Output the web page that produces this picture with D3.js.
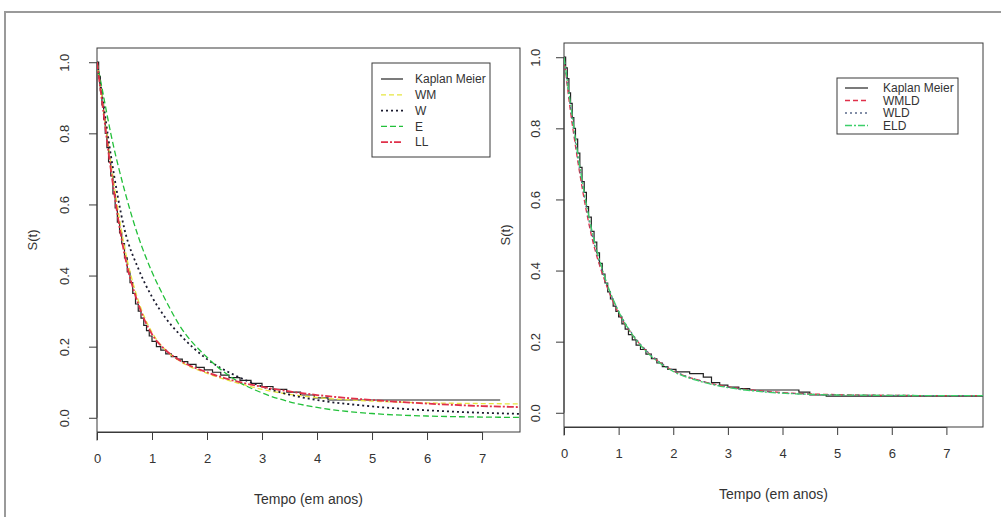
<!DOCTYPE html>
<html>
<head>
<meta charset="utf-8">
<script src="https://cdn.jsdelivr.net/npm/d3@7"></script>
<style>
  html, body { margin: 0; padding: 0; background: #fff; }
  svg { display: block; font-family: "Liberation Sans", Arial, sans-serif; }
</style>
</head>
<body>
<svg id="chart" width="1001" height="517"></svg>
<script>
// ---------- data ----------
// Left panel: Kaplan-Meier estimate and parametric fits
const kmLeftTime = [0, 0.03, 0.06, 0.09, 0.12, 0.15, 0.18, 0.21, 0.25, 0.29, 0.33, 0.37, 0.41, 0.45, 0.5, 0.55, 0.6, 0.65, 0.7, 0.75, 0.8, 0.85, 0.9, 0.95, 1.0, 1.08, 1.16, 1.25, 1.35, 1.45, 1.55, 1.65, 1.8, 1.95, 2.1, 2.25, 2.4, 2.6, 2.8, 3.0, 3.2, 3.45, 3.7, 3.95, 4.2, 7.33];
const kmLeftSurv = [1, 0.96, 0.92, 0.88, 0.84, 0.80, 0.76, 0.72, 0.68, 0.63, 0.59, 0.55, 0.52, 0.49, 0.45, 0.41, 0.38, 0.35, 0.32, 0.30, 0.28, 0.26, 0.245, 0.23, 0.215, 0.20, 0.19, 0.18, 0.172, 0.165, 0.158, 0.15, 0.142, 0.135, 0.128, 0.12, 0.113, 0.105, 0.097, 0.088, 0.08, 0.072, 0.064, 0.056, 0.05, 0.05];

const fitLeftTime = [0, 0.1, 0.25, 0.5, 0.75, 1, 1.25, 1.5, 2, 2.5, 3, 3.5, 4, 5, 6, 7, 7.7];
const survWM = [1, 0.89, 0.72, 0.48, 0.33, 0.24, 0.19, 0.16, 0.125, 0.10, 0.08, 0.066, 0.057, 0.047, 0.042, 0.040, 0.039];
const survW  = [1, 0.90, 0.74, 0.53, 0.42, 0.34, 0.28, 0.235, 0.165, 0.12, 0.088, 0.065, 0.05, 0.032, 0.021, 0.014, 0.011];
const survE  = [1, 0.92, 0.80, 0.64, 0.51, 0.41, 0.33, 0.26, 0.17, 0.108, 0.07, 0.045, 0.029, 0.012, 0.005, 0.002, 0.001];
const survLL = [1, 0.88, 0.70, 0.46, 0.32, 0.235, 0.19, 0.162, 0.128, 0.104, 0.087, 0.074, 0.064, 0.05, 0.04, 0.033, 0.03];

// Right panel: Kaplan-Meier estimate and long-duration (cure) fits
const kmRightTime = [0, 0.03, 0.06, 0.09, 0.12, 0.15, 0.18, 0.21, 0.25, 0.29, 0.33, 0.37, 0.41, 0.45, 0.5, 0.55, 0.6, 0.65, 0.7, 0.75, 0.8, 0.85, 0.9, 0.95, 1.0, 1.06, 1.12, 1.18, 1.25, 1.32, 1.4, 1.5, 1.6, 1.7, 1.8, 1.9, 2.05, 2.3, 2.55, 2.7, 2.85, 3.0, 3.2, 3.4, 4.3, 4.5, 4.8, 7.67];
const kmRightSurv = [1, 0.97, 0.94, 0.90, 0.87, 0.83, 0.80, 0.77, 0.73, 0.69, 0.65, 0.62, 0.58, 0.55, 0.51, 0.48, 0.45, 0.42, 0.39, 0.365, 0.34, 0.32, 0.30, 0.285, 0.27, 0.25, 0.235, 0.22, 0.205, 0.19, 0.178, 0.165, 0.152, 0.14, 0.13, 0.122, 0.115, 0.11, 0.10, 0.085, 0.078, 0.072, 0.068, 0.064, 0.058, 0.05, 0.047, 0.047];

const fitRightTime = [0, 0.1, 0.25, 0.5, 0.75, 1, 1.25, 1.5, 1.75, 2, 2.5, 3, 3.5, 4, 4.5, 5, 6, 7, 7.7];
const survWMLD = [1, 0.87, 0.71, 0.50, 0.37, 0.28, 0.22, 0.175, 0.142, 0.118, 0.09, 0.073, 0.063, 0.057, 0.053, 0.051, 0.049, 0.048, 0.048];
const survWLD  = [1, 0.88, 0.72, 0.51, 0.375, 0.285, 0.222, 0.176, 0.143, 0.119, 0.09, 0.072, 0.062, 0.056, 0.052, 0.05, 0.049, 0.048, 0.048];
const survELD  = [1, 0.89, 0.73, 0.52, 0.38, 0.285, 0.22, 0.173, 0.14, 0.116, 0.088, 0.071, 0.061, 0.055, 0.052, 0.05, 0.049, 0.048, 0.048];

const xTicks = [0, 1, 2, 3, 4, 5, 6, 7];
const yTicks = [0, 0.2, 0.4, 0.6, 0.8, 1.0];
const xTitle = "Tempo (em anos)";
const yTitle = "S(t)";

// ---------- drawing ----------
const svg = d3.select("#chart");

// outer frame
svg.append("path")
  .attr("d", "M5,517 V12 H1001")
  .attr("fill", "none").attr("stroke", "#9a9a9a").attr("stroke-width", 2);

function zip(ts, ss) { return ts.map((t, i) => [t, ss[i]]); }

function panel(cfg) {
  const x = d3.scaleLinear().domain([0, cfg.xMax]).range([cfg.left, cfg.right]);
  const y = d3.scaleLinear().domain([-0.04, 1.04]).range([cfg.bottom, cfg.top]);
  const g = svg.append("g");

  // plot box
  g.append("rect")
    .attr("x", cfg.left).attr("y", cfg.top)
    .attr("width", cfg.right - cfg.left).attr("height", cfg.bottom - cfg.top)
    .attr("fill", "none").attr("stroke", "#3a3a3a").attr("stroke-width", 1);

  // axes
  const xa = g.append("g").attr("transform", `translate(0,${cfg.bottom})`)
    .call(d3.axisBottom(x).tickValues(xTicks).tickFormat(d3.format("d")).tickSize(8).tickPadding(14));
  const ya = g.append("g").attr("transform", `translate(${cfg.left},0)`)
    .call(d3.axisLeft(y).tickValues(yTicks).tickFormat(d3.format(".1f")).tickSize(8).tickPadding(0));
  [xa, ya].forEach(a => {
    a.select(".domain").attr("stroke", "#3a3a3a");
    a.selectAll(".tick line").attr("stroke", "#3a3a3a");
    a.selectAll("text").attr("fill", "#333").attr("font-size", 13);
  });
  xa.select(".domain").attr("d", `M${x(0)},0.5V8.5M${x(0)},0.5H${x(7)}`);
  ya.select(".domain").attr("d", `M0,${y(0)}V${y(1)}`);
  ya.selectAll(".tick text")
    .attr("x", 0).attr("dy", 0)
    .attr("text-anchor", "middle")
    .attr("transform", `translate(${-cfg.yLabOff},0) rotate(-90)`);

  // axis titles
  g.append("text").attr("x", (cfg.left + cfg.right) / 2).attr("y", cfg.bottom + 72)
    .attr("text-anchor", "middle").attr("font-size", 14).attr("fill", "#333").text(xTitle);
  g.append("text")
    .attr("transform", `translate(${cfg.yTitleX},${(cfg.top + cfg.bottom) / 2}) rotate(-90)`)
    .attr("text-anchor", "middle").attr("font-size", 13).attr("fill", "#333").text(yTitle);

  // curves
  const clip = "clip" + cfg.id;
  svg.append("clipPath").attr("id", clip).append("rect")
    .attr("x", cfg.left).attr("y", cfg.top)
    .attr("width", cfg.right - cfg.left).attr("height", cfg.bottom - cfg.top);
  const cg = g.append("g").attr("clip-path", `url(#${clip})`);
  const smooth = d3.line().x(d => x(d[0])).y(d => y(d[1])).curve(d3.curveMonotoneX);
  const step = d3.line().x(d => x(d[0])).y(d => y(d[1])).curve(d3.curveStepAfter);

  cfg.series.forEach(s => {
    cg.append("path")
      .attr("d", (s.step ? step : smooth)(s.pts))
      .attr("fill", "none").attr("stroke", s.color)
      .attr("stroke-width", s.width || 1.3)
      .attr("stroke-dasharray", s.dash || null);
  });

  // legend
  const L = cfg.legend;
  g.append("rect").attr("x", L.x).attr("y", L.y).attr("width", L.w).attr("height", L.h)
    .attr("fill", "#fff").attr("stroke", "#3a3a3a").attr("stroke-width", 1);
  cfg.series.forEach((s, i) => {
    const yy = L.y + L.first + i * L.gap;
    g.append("line").attr("x1", L.x + L.lx0).attr("x2", L.x + L.lx1).attr("y1", yy).attr("y2", yy)
      .attr("stroke", s.color).attr("stroke-width", s.width || 1.3).attr("stroke-dasharray", s.dash || null);
    g.append("text").attr("x", L.x + L.tx).attr("y", yy).attr("dy", "0.35em")
      .attr("font-size", 12).attr("fill", "#333").text(s.name);
  });
}

panel({
  id: "L", left: 97, right: 520, top: 48, bottom: 432, xMax: 7.69,
  yLabOff: 28, yTitleX: 37,
  series: [
    { name: "Kaplan Meier", pts: zip(kmLeftTime, kmLeftSurv), step: true, color: "#222", width: 1.2 },
    { name: "WM", pts: zip(fitLeftTime, survWM), color: "#e6e640", dash: "5,3" },
    { name: "W",  pts: zip(fitLeftTime, survW),  color: "#1a1a2e", dash: "2,3", width: 1.8 },
    { name: "E",  pts: zip(fitLeftTime, survE),  color: "#22c03a", dash: "6,3" },
    { name: "LL", pts: zip(fitLeftTime, survLL), color: "#e0304a", dash: "7,2,2,2", width: 1.8 }
  ],
  legend: { x: 372, y: 63, w: 118, h: 94, first: 16, gap: 15.8, lx0: 9, lx1: 31, tx: 43 }
});

panel({
  id: "R", left: 564, right: 983, top: 43, bottom: 427, xMax: 7.67,
  yLabOff: 24, yTitleX: 510,
  series: [
    { name: "Kaplan Meier", pts: zip(kmRightTime, kmRightSurv), step: true, color: "#222", width: 1.2 },
    { name: "WMLD", pts: zip(fitRightTime, survWMLD), color: "#e0304a", dash: "5,3" },
    { name: "WLD",  pts: zip(fitRightTime, survWLD),  color: "#5a6a8a", dash: "2,3" },
    { name: "ELD",  pts: zip(fitRightTime, survELD),  color: "#3ccf6a", dash: "7,2,2,2" }
  ],
  legend: { x: 837, y: 78, w: 121, h: 56, first: 10, gap: 12.5, lx0: 8, lx1: 31, tx: 46 }
});
</script>
</body>
</html>
